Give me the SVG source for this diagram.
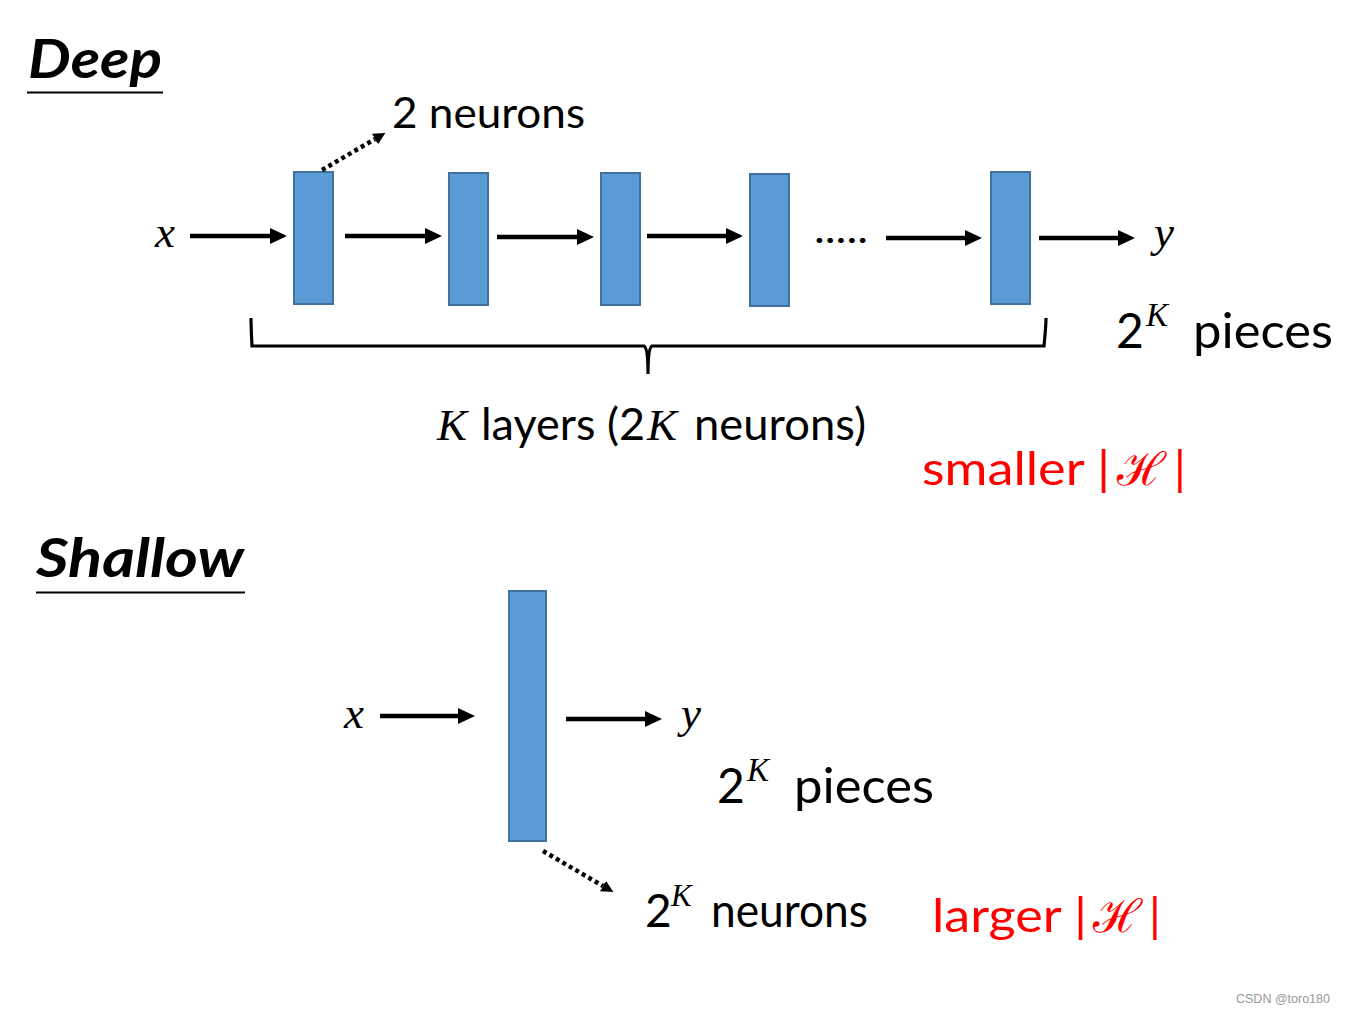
<svg xmlns="http://www.w3.org/2000/svg" width="1345" height="1014" viewBox="0 0 1345 1014">
<style>
.t{font-family:Lato,"Open Sans","Noto Sans",sans-serif;fill:#000}
.title{font-family:Lato,"Open Sans",sans-serif;font-weight:bold;font-style:italic;fill:#000}
.m{font-family:"Liberation Serif","DejaVu Serif",serif;font-style:italic;fill:#000}
.red{fill:#FF0000}
.layer{fill:#5B9BD5;stroke:#41719C;stroke-width:2}
.arr{stroke:#000;stroke-width:4.5;fill:none}
.dot{stroke:#000;stroke-width:4.5;fill:none;stroke-dasharray:4 3.5}
.ul{stroke:#000;stroke-width:2}
</style>
<defs>
<marker id="ah" markerUnits="userSpaceOnUse" markerWidth="18" markerHeight="18" refX="0" refY="8" orient="auto" viewBox="0 0 18 18">
<path d="M0,0 L17,8 L0,16 z" fill="#000"/>
</marker>
<marker id="dh" markerUnits="userSpaceOnUse" markerWidth="14" markerHeight="14" refX="0" refY="6" orient="auto" viewBox="0 0 14 14">
<path d="M0,0 L12,6 L0,12 z" fill="#000"/>
</marker>
</defs>
<rect width="1345" height="1014" fill="#fff"/>

<!-- Deep section -->
<g id="title-deep">
<text class="title" x="28" y="78" font-size="54" textLength="134" lengthAdjust="spacingAndGlyphs">Deep</text>
<line class="ul" x1="27" y1="92.5" x2="163" y2="92.5"/>
</g>
<g id="label-2neurons"><text class="t" x="392" y="128" font-size="42" textLength="193" lengthAdjust="spacingAndGlyphs">2 neurons</text></g>
<g id="deep-x"><text class="m" x="155" y="247" font-size="45">x</text></g>
<g id="deep-l1"><rect class="layer" x="294" y="172" width="39" height="132"/></g>
<g id="deep-l2"><rect class="layer" x="449" y="173" width="39" height="132"/></g>
<g id="deep-l3"><rect class="layer" x="601" y="173" width="39" height="132"/></g>
<g id="deep-l4"><rect class="layer" x="750" y="174" width="39" height="132"/></g>
<g id="deep-dots"><text class="t" x="814" y="243" font-size="40" textLength="54" lengthAdjust="spacingAndGlyphs">.....</text></g>
<g id="deep-lK"><rect class="layer" x="991" y="172" width="39" height="132"/></g>
<g id="deep-y"><text class="m" x="1154" y="247" font-size="45">y</text></g>
<g id="deep-pieces">
<text class="t" x="1116" y="348" font-size="48">2</text>
<text class="m" x="1146" y="326" font-size="33">K</text>
<text class="t" x="1193" y="348" font-size="48" textLength="140" lengthAdjust="spacingAndGlyphs">pieces</text>
</g>
<g id="deep-brace">
<path d="M251,318 Q251,326 252,346 L644,346 Q648,348 648,374 Q648,348 652,346 L1044,346 Q1046,326 1046,318" fill="none" stroke="#000" stroke-width="3.2"/>
</g>
<g id="deep-klayers">
<text class="m" x="437" y="440" font-size="45">K</text>
<text class="t" x="481" y="440" font-size="44" textLength="164" lengthAdjust="spacingAndGlyphs">layers (2</text>
<text class="m" x="647" y="440" font-size="45">K</text>
<text class="t" x="694" y="440" font-size="44" textLength="172" lengthAdjust="spacingAndGlyphs">neurons)</text>
</g>
<g id="deep-smaller">
<text class="t red" x="922" y="485" font-size="47" textLength="188" lengthAdjust="spacingAndGlyphs">smaller |</text>
<text class="red" x="1117" y="485" font-size="46" font-family="'DejaVu Serif','Noto Sans',serif" font-style="italic">ℋ</text>
<text class="t red" x="1174" y="485" font-size="47">|</text>
</g>

<!-- Shallow section -->
<g id="title-shallow">
<text class="title" x="36" y="577" font-size="54" textLength="208" lengthAdjust="spacingAndGlyphs">Shallow</text>
<line class="ul" x1="36" y1="592.5" x2="245" y2="592.5"/>
</g>
<g id="sh-x"><text class="m" x="344" y="728" font-size="45">x</text></g>
<g id="sh-layer"><rect class="layer" x="509" y="591" width="37" height="250"/></g>
<g id="sh-y"><text class="m" x="681" y="728" font-size="45">y</text></g>
<g id="sh-pieces">
<text class="t" x="717" y="803" font-size="48">2</text>
<text class="m" x="747" y="781" font-size="33">K</text>
<text class="t" x="794" y="803" font-size="48" textLength="140" lengthAdjust="spacingAndGlyphs">pieces</text>
</g>
<g id="sh-neurons">
<text class="t" x="645" y="927" font-size="46">2</text>
<text class="m" x="671" y="906" font-size="31">K</text>
<text class="t" x="711" y="927" font-size="46" textLength="157" lengthAdjust="spacingAndGlyphs">neurons</text>
</g>
<g id="sh-larger">
<text class="t red" x="932" y="932" font-size="47" textLength="155" lengthAdjust="spacingAndGlyphs">larger |</text>
<text class="red" x="1093" y="932" font-size="46" font-family="'DejaVu Serif','Noto Sans',serif" font-style="italic">ℋ</text>
<text class="t red" x="1149" y="932" font-size="47">|</text>
</g>

<g id="connectors">
<line class="arr" x1="190" y1="236" x2="270" y2="236" marker-end="url(#ah)"/>
<line class="arr" x1="345" y1="236" x2="425" y2="236" marker-end="url(#ah)"/>
<line class="arr" x1="497" y1="237" x2="577" y2="237" marker-end="url(#ah)"/>
<line class="arr" x1="647" y1="236" x2="726" y2="236" marker-end="url(#ah)"/>
<line class="arr" x1="886" y1="238" x2="965" y2="238" marker-end="url(#ah)"/>
<line class="arr" x1="1039" y1="238" x2="1118" y2="238" marker-end="url(#ah)"/>
<line class="dot" x1="322" y1="170" x2="375" y2="139" marker-end="url(#dh)"/>
<line class="arr" x1="380" y1="716" x2="458" y2="716" marker-end="url(#ah)"/>
<line class="arr" x1="566" y1="719" x2="645" y2="719" marker-end="url(#ah)"/>
<line class="dot" x1="543" y1="851" x2="603" y2="886" marker-end="url(#dh)"/>
</g>

<g id="watermark"><text x="1236" y="1003" font-size="12.5" font-family="'Liberation Sans',Arial,sans-serif" fill="#999">CSDN @toro180</text></g>
</svg>
